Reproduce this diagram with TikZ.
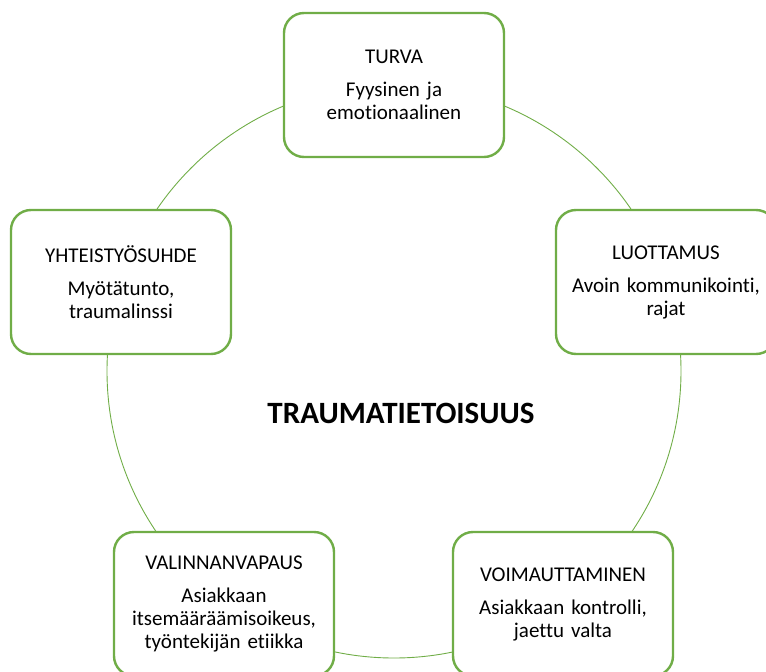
\documentclass[tikz,border=0pt]{standalone}
\usepackage{fontspec}
\setmainfont{Carlito}[Ligatures=NoCommon]
\usepackage{xcolor}
\usetikzlibrary{positioning}
\definecolor{leafgreen}{HTML}{70AD47}

\begin{document}
\begin{tikzpicture}[x=1pt, y=-1pt,
            block/.style={rectangle, draw=leafgreen, line width=2.4pt, fill=white, rounded corners=20pt, text width=208pt, inner xsep=6pt, minimum height=144pt, align=center, font=\fontsize{21}{23}\selectfont},
            ring/.style={draw=leafgreen, line width=0.9pt},
            title/.style={font=\fontsize{31}{34}\selectfont\bfseries}
        ]
            \useasboundingbox (0,0) rectangle (766,672);

            \coordinate (mid) at (394,371);
            \draw[ring] (mid) circle (287pt);

            \node[block] (turva) at (394,85) {TURVA\\[10pt]Fyysinen ja\\emotionaalinen};
            \node[block] (luottamus) at (666,282) {LUOTTAMUS\\[10pt]Avoin kommunikointi,\\rajat};
            \node[block] (voima) at (563,604) {VOIMAUTTAMINEN\\[10pt]Asiakkaan kontrolli,\\jaettu valta};
            \node[block] (valinta) at (224,604) {VALINNANVAPAUS\\[10pt]Asiakkaan\\itsemääräämisoikeus,\\työntekijän etiikka};
            \node[block] (yhteis) at (121,282) {YHTEISTYÖSUHDE\\[10pt]Myötätunto,\\traumalinssi};

            \node[title] (trauma) at (401,413) {TRAUMATIETOISUUS};

        \end{tikzpicture}
\end{document}
